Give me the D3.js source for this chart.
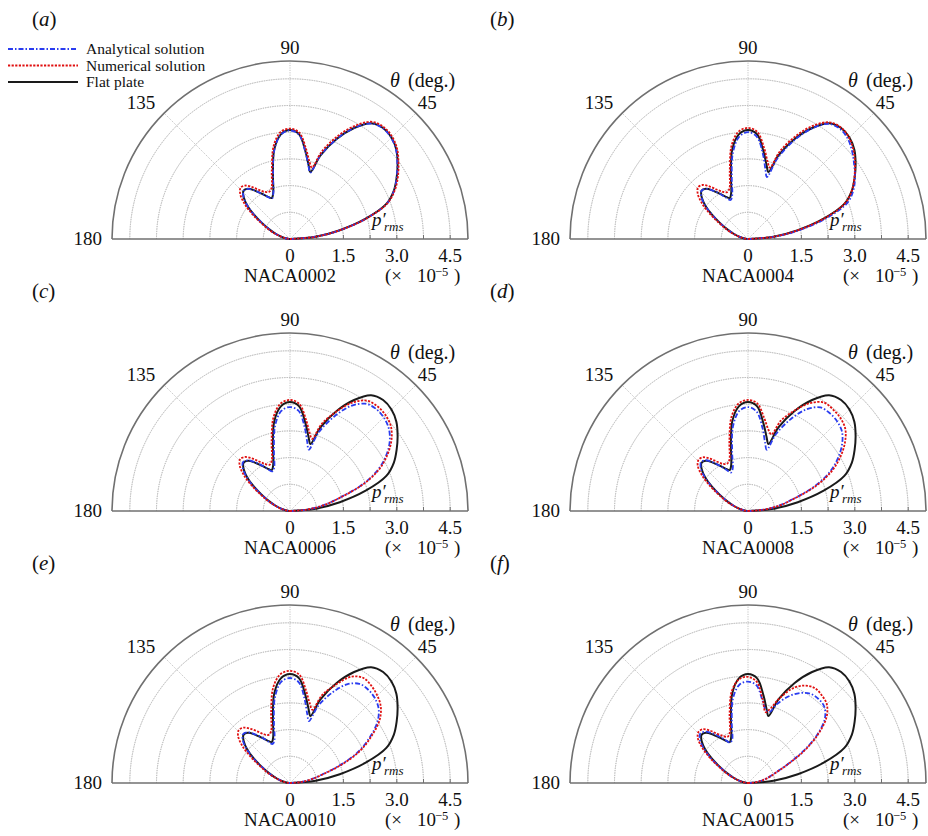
<!DOCTYPE html>
<html>
<head>
<meta charset="utf-8">
<script src="https://cdn.jsdelivr.net/npm/d3@7"></script>
<style>
  body { margin: 0; background: #fff; }
  svg text { font-family: "Liberation Serif", "Times New Roman", serif; fill: #111; }
</style>
</head>
<body>
<div id="chart"></div>
<script>
// polar angle (deg.) shared by every curve
const THETA = [0,5,10,15,20,25,30,35,40,45,50,55,60,65,70,73,76,80,85,90,95,100,105,110,114,118,122,126,130,134,138,142,146,150,155,160,165,170,175,180];

// flat plate, same in every panel (x 1e-5)
const FLAT = [0,0.72,1.42,2.2,2.88,3.22,3.46,3.69,3.9,4.03,4.07,3.97,3.6,3.1,2.5,1.97,2.15,2.5,2.95,3.06,2.95,2.55,1.85,1.38,1.26,1.35,1.5,1.68,1.84,1.88,1.75,1.52,1.22,0.92,0.64,0.43,0.26,0.13,0.04,0];

// analytical / numerical solutions per aerofoil
const ANA_A = [0,0.73,1.43,2.21,2.89,3.23,3.46,3.68,3.89,4.02,4.06,3.96,3.6,3.1,2.49,1.95,2.13,2.49,2.94,3.05,2.94,2.54,1.84,1.37,1.24,1.35,1.5,1.68,1.84,1.88,1.75,1.52,1.22,0.92,0.64,0.43,0.26,0.13,0.04,0];
const NUM_A = [0,0.72,1.43,2.22,2.9,3.25,3.5,3.72,3.93,4.06,4.1,4.02,3.68,3.2,2.62,2.1,2.25,2.58,3.0,3.1,3.02,2.65,1.98,1.52,1.45,1.5,1.62,1.8,1.96,2.0,1.88,1.63,1.32,1.0,0.7,0.46,0.28,0.14,0.04,0];

const ANA_B = [0,0.76,1.5,2.3,2.97,3.27,3.47,3.64,3.82,3.97,4.03,3.95,3.58,3.05,2.4,1.82,2.02,2.42,2.88,3.0,2.88,2.45,1.76,1.3,1.2,1.32,1.5,1.68,1.84,1.88,1.76,1.53,1.23,0.93,0.65,0.43,0.26,0.13,0.04,0];
const NUM_B = [0,0.72,1.43,2.2,2.88,3.22,3.45,3.67,3.87,4.02,4.08,4.0,3.68,3.2,2.62,2.1,2.26,2.6,3.02,3.12,3.03,2.66,1.98,1.52,1.44,1.5,1.63,1.82,1.98,2.02,1.9,1.65,1.33,1.0,0.7,0.46,0.28,0.14,0.04,0];

const ANA_C = [0,0.5,0.97,1.45,2.15,2.72,3.12,3.42,3.62,3.72,3.75,3.68,3.4,2.92,2.35,1.8,2.0,2.38,2.82,2.92,2.82,2.42,1.74,1.3,1.22,1.34,1.52,1.7,1.86,1.9,1.78,1.54,1.24,0.93,0.65,0.43,0.26,0.13,0.04,0];
const NUM_C = [0,0.5,0.98,1.47,2.18,2.76,3.16,3.48,3.7,3.8,3.83,3.78,3.52,3.08,2.6,2.12,2.27,2.6,3.02,3.12,3.03,2.67,2.0,1.5,1.42,1.5,1.64,1.83,1.98,2.02,1.9,1.65,1.33,1.0,0.7,0.46,0.28,0.14,0.04,0];

const ANA_D = [0,0.45,0.9,1.32,1.95,2.5,2.9,3.22,3.45,3.55,3.58,3.55,3.3,2.85,2.3,1.8,1.98,2.36,2.8,2.92,2.82,2.42,1.72,1.26,1.18,1.32,1.5,1.7,1.86,1.9,1.78,1.54,1.24,0.93,0.65,0.43,0.26,0.13,0.04,0];
const NUM_D = [0,0.45,0.9,1.34,2.0,2.56,2.98,3.32,3.57,3.68,3.72,3.72,3.5,3.12,2.7,2.25,2.36,2.64,3.03,3.12,3.03,2.68,2.02,1.53,1.45,1.5,1.63,1.82,1.97,2.0,1.9,1.65,1.33,1.0,0.7,0.46,0.28,0.14,0.04,0];

const ANA_E = [0,0.3,0.6,0.95,1.55,2.15,2.6,3.0,3.25,3.37,3.42,3.4,3.2,2.8,2.3,1.82,2.0,2.38,2.84,2.95,2.85,2.44,1.74,1.28,1.2,1.33,1.52,1.7,1.86,1.9,1.78,1.54,1.24,0.93,0.65,0.43,0.26,0.13,0.04,0];
const NUM_E = [0,0.3,0.62,0.98,1.6,2.2,2.65,3.07,3.33,3.47,3.56,3.6,3.45,3.05,2.62,2.15,2.3,2.62,3.05,3.15,3.07,2.72,2.05,1.55,1.48,1.55,1.7,1.88,2.03,2.07,1.96,1.7,1.36,1.02,0.72,0.47,0.29,0.14,0.04,0];

const ANA_F = [0,0.2,0.4,0.58,0.8,1.2,1.8,2.38,2.82,3.03,3.08,3.06,2.92,2.68,2.35,2.09,2.1,2.35,2.75,2.85,2.77,2.42,1.76,1.3,1.24,1.38,1.55,1.73,1.88,1.93,1.82,1.57,1.27,0.95,0.66,0.44,0.27,0.13,0.04,0];
const NUM_F = [0,0.2,0.4,0.6,0.82,1.22,1.85,2.42,2.88,3.13,3.22,3.26,3.16,2.92,2.5,2.2,2.05,2.38,2.85,2.98,2.92,2.62,2.0,1.5,1.42,1.5,1.63,1.82,1.97,2.0,1.9,1.65,1.33,1.0,0.7,0.46,0.28,0.14,0.04,0];

const TAGS = ["a", "b", "c", "d", "e", "f"];
const NAMES = ["NACA0002", "NACA0004", "NACA0006", "NACA0008", "NACA0010", "NACA0015"];
const RINGS = [0.75, 1.5, 2.25, 3.0, 3.75, 4.5];
const TICKS = [0, 1.5, 3.0, 4.5];
const SPOKES = [45, 90, 135];
const LEGEND = ["Analytical solution", "Numerical solution", "Flat plate"];

const panels = [
  {ana: ANA_A, num: NUM_A}, {ana: ANA_B, num: NUM_B},
  {ana: ANA_C, num: NUM_C}, {ana: ANA_D, num: NUM_D},
  {ana: ANA_E, num: NUM_E}, {ana: ANA_F, num: NUM_F}
].map((p, i) => ({...p, tag: TAGS[i], name: NAMES[i], cx: i % 2 ? 748 : 290, cy: [239, 511, 783][Math.floor(i / 2)]}));

const W = 928, H = 836;
const svg = d3.select("#chart").append("svg").attr("width", W).attr("height", H);

const r = d3.scaleLinear().domain([0, 5]).range([0, 178]);
const ang = d3.scaleLinear().domain([0, 180]).range([Math.PI / 2, -Math.PI / 2]);

const STYLE = {
  flat: {stroke: "#1a1a1a", width: 2, dash: null},
  ana: {stroke: "#2a3cf0", width: 1.8, dash: "5,2,1.5,2"},
  num: {stroke: "#e01010", width: 1.8, dash: "2.2,1.4"}
};

const curve = d3.lineRadial()
  .angle(d => ang(d[0]))
  .radius(d => r(d[1]))
  .curve(d3.curveCatmullRom.alpha(0.5));

function pt(t, v) {
  const a = t * Math.PI / 180;
  return [r(v) * Math.cos(a), -r(v) * Math.sin(a)];
}

function label(g, x, y, size, txt, italic, anchor) {
  return g.append("text").attr("x", x).attr("y", y).attr("font-size", size)
    .attr("font-style", italic ? "italic" : null)
    .attr("text-anchor", anchor || null).text(txt);
}

panels.forEach(p => {
  const g = svg.append("g").attr("transform", `translate(${p.cx},${p.cy})`);

  // grid rings
  const arc = d3.arc().startAngle(-Math.PI / 2).endAngle(Math.PI / 2);
  g.selectAll("path.ring").data(RINGS).enter().append("path")
    .attr("class", "ring")
    .attr("d", d => arc({innerRadius: r(d), outerRadius: r(d)}))
    .attr("fill", "none").attr("stroke", "#b5b5b5")
    .attr("stroke-width", 0.8).attr("stroke-dasharray", "1.2,1.2");

  g.selectAll("line.spoke").data(SPOKES).enter().append("line")
    .attr("class", "spoke")
    .attr("x1", 0).attr("y1", 0)
    .attr("x2", d => pt(d, 5)[0]).attr("y2", d => pt(d, 5)[1])
    .attr("stroke", "#b5b5b5").attr("stroke-width", 0.8).attr("stroke-dasharray", "1.2,1.2");

  // frame
  g.append("path")
    .attr("d", arc({innerRadius: r(5), outerRadius: r(5)}))
    .attr("fill", "none").attr("stroke", "#707070").attr("stroke-width", 1.6);
  g.append("line").attr("x1", -r(5)).attr("x2", r(5)).attr("y1", 0).attr("y2", 0)
    .attr("stroke", "#707070").attr("stroke-width", 1.6);
  g.selectAll("line.tick").data(RINGS).enter().append("line")
    .attr("class", "tick")
    .attr("x1", d => r(d)).attr("x2", d => r(d)).attr("y1", 0).attr("y2", -4)
    .attr("stroke", "#707070").attr("stroke-width", 1);

  // curves
  [["flat", FLAT], ["ana", p.ana], ["num", p.num]].forEach(([k, vals]) => {
    const s = STYLE[k];
    g.append("path")
      .attr("d", curve(THETA.map((t, i) => [t, vals[i]])))
      .attr("fill", "none").attr("stroke", s.stroke)
      .attr("stroke-width", s.width).attr("stroke-dasharray", s.dash)
      .attr("stroke-linejoin", "round");
  });

  // angle labels
  label(g, 0, -r(5) - 7, 19, "90", false, "middle");
  label(g, pt(45, 5)[0] + 2, pt(45, 5)[1] - 4, 19, "45");
  label(g, pt(135, 5)[0] - 9, pt(135, 5)[1] - 4, 19, "135", false, "end");
  label(g, -r(5) - 10, 6, 19, "180", false, "end");

  // radial tick labels
  g.selectAll("text.tl").data(TICKS).enter().append("text")
    .attr("class", "tl").attr("x", d => r(d)).attr("y", 23)
    .attr("text-anchor", "middle").attr("font-size", 19)
    .text(d => d === 0 ? "0" : d.toFixed(1));

  label(g, 0, 43, 19, p.name, false, "middle");
  label(g, 95, 43, 19, "(\u00d7");
  label(g, 127, 43, 19, "10");
  label(g, 145, 37, 12.5, "\u22125");
  label(g, 164, 43, 19, ")");

  label(g, 100, -152, 20, "\u03b8", true);
  label(g, 118, -152, 20, "(deg.)");

  label(g, 82, -13, 19, "p\u2032", true);
  label(g, 94, -8, 13, "rms", true);

  const lab = g.append("text").attr("x", -258).attr("y", -213).attr("font-size", 21);
  lab.append("tspan").text("(");
  lab.append("tspan").attr("font-style", "italic").text(p.tag);
  lab.append("tspan").text(")");
});

// legend (panel a only)
const leg = svg.append("g");
["ana", "num", "flat"].forEach((k, i) => {
  const s = STYLE[k], y = 49 + i * 16.5;
  leg.append("line").attr("x1", 8).attr("x2", 78).attr("y1", y).attr("y2", y)
    .attr("stroke", s.stroke).attr("stroke-width", s.width).attr("stroke-dasharray", s.dash);
  leg.append("text").attr("x", 86).attr("y", y + 5).attr("font-size", 15.5).text(LEGEND[i]);
});
</script>
</body>
</html>
